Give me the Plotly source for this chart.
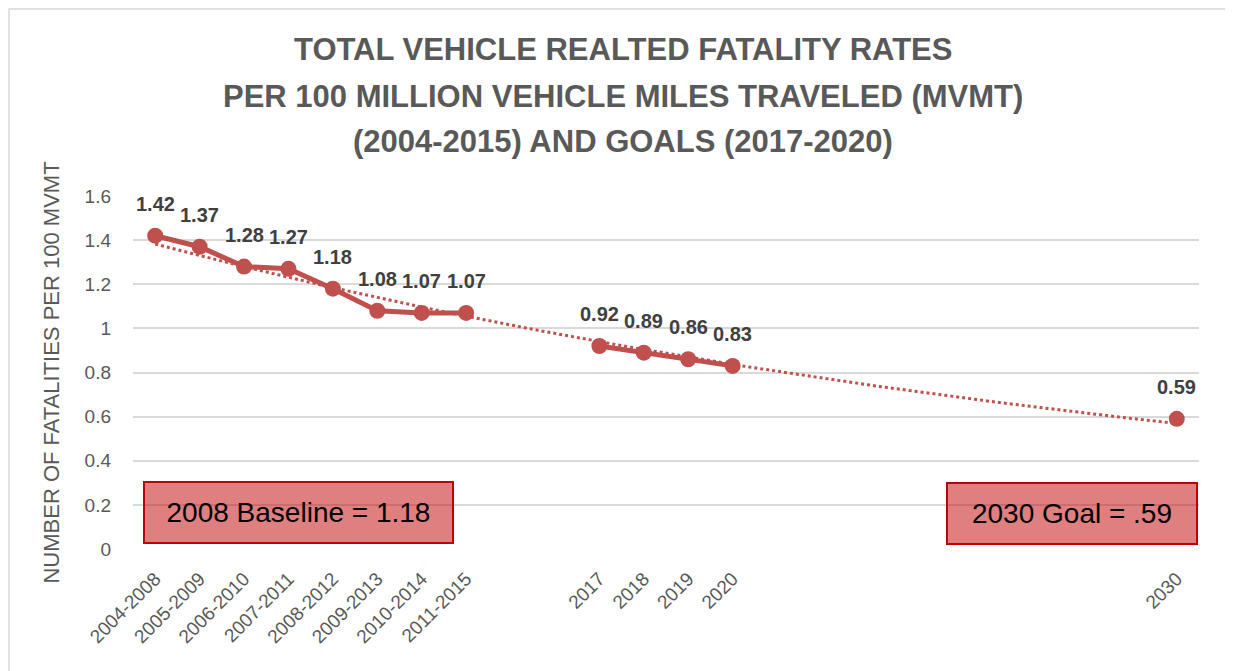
import numpy as np
import plotly.graph_objects as go

categories = ["2004-2008", "2005-2009", "2006-2010", "2007-2011", "2008-2012",
              "2009-2013", "2010-2014", "2011-2015", "", "",
              "2017", "2018", "2019", "2020", "", "", "", "", "", "", "", "", "",
              "2030"]
rates = [1.42, 1.37, 1.28, 1.27, 1.18, 1.08, 1.07, 1.07, None, None,
         0.92, 0.89, 0.86, 0.83, None, None, None, None, None, None, None, None, None,
         0.59]
y_ticks = [0, 0.2, 0.4, 0.6, 0.8, 1, 1.2, 1.4, 1.6]
title_lines = ["TOTAL VEHICLE REALTED FATALITY RATES",
               "PER 100 MILLION VEHICLE MILES TRAVELED (MVMT)",
               "(2004-2015) AND GOALS (2017-2020)"]
box_texts = ["2008 Baseline = 1.18", "2030 Goal = .59"]

RED = "#C0504D"
GRAY = "#595959"
FONT = "Liberation Sans"

x_idx = list(range(len(categories)))
# break the line between 2020 and 2030 (goal point stands alone)
line_vals = list(rates)
goal_i = len(rates) - 1
line_vals[goal_i] = None

# exponential trendline fitted to the available points
px = np.array([i + 1 for i, v in enumerate(rates) if v is not None], dtype=float)
py = np.array([v for v in rates if v is not None], dtype=float)
b, a = np.polyfit(px, np.log(py), 1)
tx = np.linspace(px.min(), px.max(), 200)
ty = np.exp(a + b * tx)

fig = go.Figure()
fig.add_trace(go.Scatter(x=tx - 1, y=ty, mode="lines",
                         line=dict(color=RED, width=3, dash="dot"),
                         hoverinfo="skip", showlegend=False))
fig.add_trace(go.Scatter(x=x_idx, y=line_vals, mode="lines+markers",
                         line=dict(color=RED, width=5),
                         marker=dict(color=RED, size=16),
                         connectgaps=False, showlegend=False))
fig.add_trace(go.Scatter(x=[goal_i], y=[rates[goal_i]], mode="markers",
                         marker=dict(color=RED, size=16), showlegend=False))

for i, v in enumerate(rates):
    if v is None:
        continue
    fig.add_annotation(x=i, y=v, text=f"<b>{v:.2f}</b>", showarrow=False,
                       yshift=32, font=dict(family=FONT, size=20, color="#404040"))

title_ys = [1.4136, 1.2805, 1.153]
for t, yy in zip(title_lines, title_ys):
    fig.add_annotation(xref="paper", yref="paper", x=0.4597, y=yy, text=f"<b>{t}</b>",
                       showarrow=False, xanchor="center", yanchor="middle",
                       font=dict(family=FONT, size=31, color=GRAY))

# boxes
box_specs = [(0.1553, 0.1034, 307), (0.8809, 0.1006, 248)]
for t, (bx, by, bw) in zip(box_texts, box_specs):
    fig.add_annotation(xref="paper", yref="paper", x=bx, y=by, text=t, showarrow=False,
                       xanchor="center", yanchor="middle", width=bw, height=59,
                       bgcolor="rgba(192,0,0,0.5)", bordercolor="#C00000", borderwidth=2,
                       borderpad=0, font=dict(family=FONT, size=28, color="black"))

# chart border
fig.add_shape(type="rect", xref="paper", yref="paper", x0=-0.1163, x1=1.04, y0=-0.37, y1=1.5297,
              line=dict(color="#D9D9D9", width=1.5), layer="below")

tickvals = [i for i, c in enumerate(categories) if c]
ticktext = [c for c in categories if c]

fig.update_layout(
    width=1225, height=663,
    margin=dict(l=125, r=34, t=188, b=122),
    plot_bgcolor="white", paper_bgcolor="white",
    font=dict(family=FONT, color=GRAY),
    xaxis=dict(range=[-0.5, len(categories) - 0.5], tickvals=tickvals, ticktext=ticktext,
               tickangle=-45, tickfont=dict(size=19, color=GRAY), showgrid=False,
               zeroline=False, showline=False, ticks="", ticklabelstandoff=14),
    yaxis=dict(range=[0, 1.6], tickvals=y_ticks, ticktext=[f"{v:g}" for v in y_ticks],
               tickfont=dict(size=19, color=GRAY), showgrid=True, gridcolor="#D9D9D9",
               gridwidth=1.5, zeroline=False, showline=False, ticklabelstandoff=21,
               title=dict(text="NUMBER OF FATALITIES PER 100 MVMT", standoff=18,
                          font=dict(size=22, color=GRAY))),
)

fig.write_html("out.html")
